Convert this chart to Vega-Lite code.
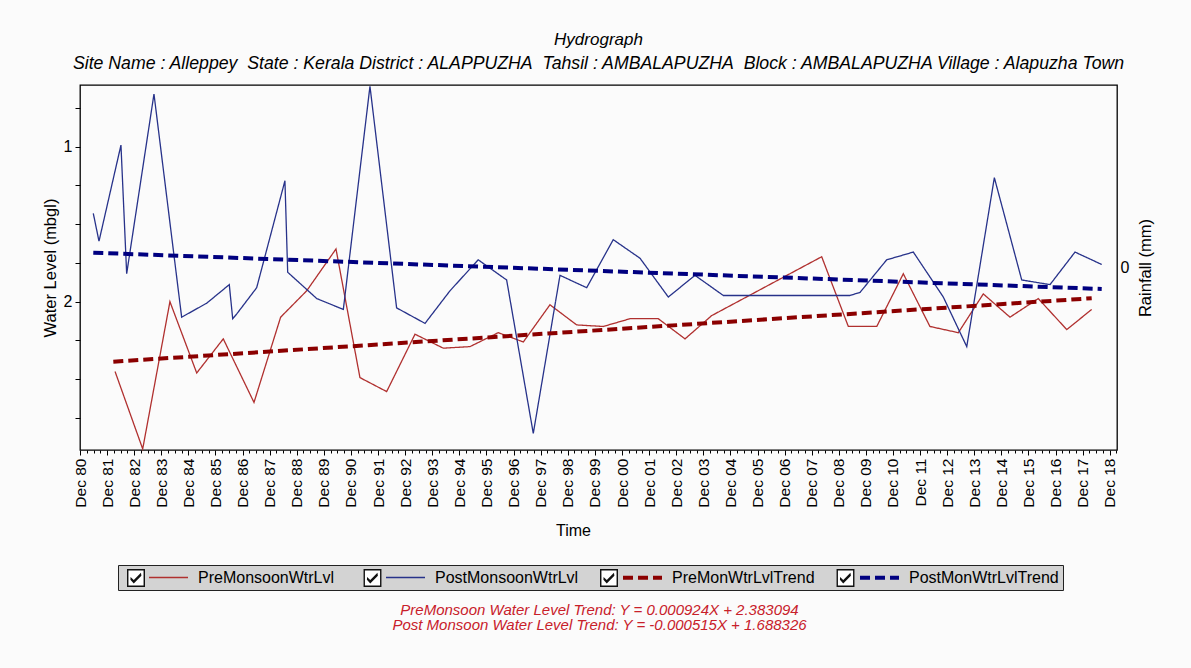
{
  "$schema": "https://vega.github.io/schema/vega-lite/v6.json",
  "width": 1037,
  "height": 365,
  "autosize": {"type": "none"},
  "padding": {"left": 80, "top": 85, "right": 74, "bottom": 218},
  "background": "#fbfbfb",
  "config": {
    "view": {"stroke": "#000", "strokeWidth": 1.3, "fill": "#fbfbfb"},
    "font": "Liberation Sans",
    "axis": {"labelFont": "Liberation Sans", "titleFont": "Liberation Sans", "labelColor": "#000", "titleColor": "#000", "tickColor": "#000", "domain": false, "grid": false, "titleFontWeight": "normal"},
    "legend": {"labelFont": "Liberation Sans", "titleFont": "Liberation Sans"}
  },
  "title": {
    "text": "Hydrograph",
    "subtitle": "Site Name : Alleppey\u00a0 State : Kerala District : ALAPPUZHA\u00a0 Tahsil : AMBALAPUZHA\u00a0 Block : AMBALAPUZHA Village : Alapuzha Town",
    "frame": "group",
    "anchor": "middle",
    "font": "Liberation Sans",
    "fontSize": 17,
    "fontStyle": "italic",
    "fontWeight": "normal",
    "color": "#000",
    "subtitleFont": "Liberation Sans",
    "subtitleFontSize": 17.7,
    "subtitleFontStyle": "italic",
    "subtitleColor": "#000",
    "subtitlePadding": 6,
    "offset": 10
  },
  "datasets": {
    "wl": [
      {"s": "PreMonsoonWtrLvl", "d": "1982-03-18", "v": 2.45},
      {"s": "PreMonsoonWtrLvl", "d": "1983-03-26", "v": 2.95},
      {"s": "PreMonsoonWtrLvl", "d": "1984-03-27", "v": 2.00},
      {"s": "PreMonsoonWtrLvl", "d": "1985-03-23", "v": 2.46},
      {"s": "PreMonsoonWtrLvl", "d": "1986-03-16", "v": 2.24},
      {"s": "PreMonsoonWtrLvl", "d": "1987-05-04", "v": 2.65},
      {"s": "PreMonsoonWtrLvl", "d": "1988-04-27", "v": 2.10},
      {"s": "PreMonsoonWtrLvl", "d": "1989-04-13", "v": 1.93},
      {"s": "PreMonsoonWtrLvl", "d": "1990-05-13", "v": 1.66},
      {"s": "PreMonsoonWtrLvl", "d": "1991-04-01", "v": 2.49},
      {"s": "PreMonsoonWtrLvl", "d": "1992-03-26", "v": 2.58},
      {"s": "PreMonsoonWtrLvl", "d": "1993-04-12", "v": 2.21},
      {"s": "PreMonsoonWtrLvl", "d": "1994-04-28", "v": 2.30},
      {"s": "PreMonsoonWtrLvl", "d": "1995-04-23", "v": 2.29},
      {"s": "PreMonsoonWtrLvl", "d": "1996-05-08", "v": 2.20},
      {"s": "PreMonsoonWtrLvl", "d": "1997-04-11", "v": 2.26},
      {"s": "PreMonsoonWtrLvl", "d": "1998-04-05", "v": 2.02},
      {"s": "PreMonsoonWtrLvl", "d": "1999-03-31", "v": 2.15},
      {"s": "PreMonsoonWtrLvl", "d": "2000-03-23", "v": 2.16},
      {"s": "PreMonsoonWtrLvl", "d": "2001-03-19", "v": 2.11},
      {"s": "PreMonsoonWtrLvl", "d": "2002-04-04", "v": 2.11},
      {"s": "PreMonsoonWtrLvl", "d": "2003-03-30", "v": 2.24},
      {"s": "PreMonsoonWtrLvl", "d": "2004-03-23", "v": 2.09},
      {"s": "PreMonsoonWtrLvl", "d": "2008-04-14", "v": 1.71},
      {"s": "PreMonsoonWtrLvl", "d": "2009-04-08", "v": 2.16},
      {"s": "PreMonsoonWtrLvl", "d": "2010-04-26", "v": 2.16},
      {"s": "PreMonsoonWtrLvl", "d": "2011-04-19", "v": 1.82},
      {"s": "PreMonsoonWtrLvl", "d": "2012-04-12", "v": 2.16},
      {"s": "PreMonsoonWtrLvl", "d": "2013-04-30", "v": 2.20},
      {"s": "PreMonsoonWtrLvl", "d": "2014-04-01", "v": 1.95},
      {"s": "PreMonsoonWtrLvl", "d": "2015-03-27", "v": 2.10},
      {"s": "PreMonsoonWtrLvl", "d": "2016-04-11", "v": 1.98},
      {"s": "PreMonsoonWtrLvl", "d": "2017-04-30", "v": 2.18},
      {"s": "PreMonsoonWtrLvl", "d": "2018-04-01", "v": 2.05},
      {"s": "PostMonsoonWtrLvl", "d": "1981-05-29", "v": 1.43},
      {"s": "PostMonsoonWtrLvl", "d": "1981-08-14", "v": 1.61},
      {"s": "PostMonsoonWtrLvl", "d": "1982-06-06", "v": 0.99},
      {"s": "PostMonsoonWtrLvl", "d": "1982-08-22", "v": 1.82},
      {"s": "PostMonsoonWtrLvl", "d": "1983-08-25", "v": 0.66},
      {"s": "PostMonsoonWtrLvl", "d": "1984-09-01", "v": 2.10},
      {"s": "PostMonsoonWtrLvl", "d": "1985-08-04", "v": 2.01},
      {"s": "PostMonsoonWtrLvl", "d": "1986-06-05", "v": 1.89},
      {"s": "PostMonsoonWtrLvl", "d": "1986-07-21", "v": 2.11},
      {"s": "PostMonsoonWtrLvl", "d": "1986-09-12", "v": 2.08},
      {"s": "PostMonsoonWtrLvl", "d": "1987-06-09", "v": 1.91},
      {"s": "PostMonsoonWtrLvl", "d": "1988-06-24", "v": 1.22},
      {"s": "PostMonsoonWtrLvl", "d": "1988-07-31", "v": 1.81},
      {"s": "PostMonsoonWtrLvl", "d": "1989-08-27", "v": 1.98},
      {"s": "PostMonsoonWtrLvl", "d": "1990-08-20", "v": 2.05},
      {"s": "PostMonsoonWtrLvl", "d": "1991-08-14", "v": 0.61},
      {"s": "PostMonsoonWtrLvl", "d": "1992-08-07", "v": 2.04},
      {"s": "PostMonsoonWtrLvl", "d": "1993-08-25", "v": 2.14},
      {"s": "PostMonsoonWtrLvl", "d": "1994-07-27", "v": 1.93},
      {"s": "PostMonsoonWtrLvl", "d": "1995-08-12", "v": 1.73},
      {"s": "PostMonsoonWtrLvl", "d": "1996-08-29", "v": 1.86},
      {"s": "PostMonsoonWtrLvl", "d": "1997-08-23", "v": 2.85},
      {"s": "PostMonsoonWtrLvl", "d": "1998-08-18", "v": 1.83},
      {"s": "PostMonsoonWtrLvl", "d": "1999-08-13", "v": 1.91},
      {"s": "PostMonsoonWtrLvl", "d": "2000-08-05", "v": 1.60},
      {"s": "PostMonsoonWtrLvl", "d": "2001-08-01", "v": 1.72},
      {"s": "PostMonsoonWtrLvl", "d": "2002-08-17", "v": 1.97},
      {"s": "PostMonsoonWtrLvl", "d": "2003-08-11", "v": 1.83},
      {"s": "PostMonsoonWtrLvl", "d": "2004-08-27", "v": 1.96},
      {"s": "PostMonsoonWtrLvl", "d": "2005-08-27", "v": 1.96},
      {"s": "PostMonsoonWtrLvl", "d": "2006-08-27", "v": 1.96},
      {"s": "PostMonsoonWtrLvl", "d": "2007-08-27", "v": 1.96},
      {"s": "PostMonsoonWtrLvl", "d": "2008-08-27", "v": 1.96},
      {"s": "PostMonsoonWtrLvl", "d": "2009-04-30", "v": 1.96},
      {"s": "PostMonsoonWtrLvl", "d": "2009-09-13", "v": 1.94},
      {"s": "PostMonsoonWtrLvl", "d": "2010-09-07", "v": 1.73},
      {"s": "PostMonsoonWtrLvl", "d": "2011-09-01", "v": 1.68},
      {"s": "PostMonsoonWtrLvl", "d": "2012-10-09", "v": 1.97},
      {"s": "PostMonsoonWtrLvl", "d": "2013-08-21", "v": 2.29},
      {"s": "PostMonsoonWtrLvl", "d": "2014-08-28", "v": 1.20},
      {"s": "PostMonsoonWtrLvl", "d": "2015-09-01", "v": 1.86},
      {"s": "PostMonsoonWtrLvl", "d": "2016-09-16", "v": 1.89},
      {"s": "PostMonsoonWtrLvl", "d": "2017-08-19", "v": 1.68},
      {"s": "PostMonsoonWtrLvl", "d": "2018-08-14", "v": 1.76},
      {"s": "PreMonWtrLvlTrend", "d": "1982-02-23", "v": 2.387},
      {"s": "PreMonWtrLvlTrend", "d": "2018-04-01", "v": 1.978},
      {"s": "PostMonWtrLvlTrend", "d": "1981-05-29", "v": 1.684},
      {"s": "PostMonWtrLvlTrend", "d": "2018-08-14", "v": 1.918}
    ],
    "aux": [
      {"d": "1975-01-01", "rain": 0, "c": "c1"},
      {"d": "1975-01-01", "rain": 0, "c": "c2"},
      {"d": "1975-01-01", "rain": 0, "c": "c3"},
      {"d": "1975-01-01", "rain": 0, "c": "c4"}
    ]
  },
  "layer": [
    {
      "data": {"name": "wl"},
      "mark": {"type": "line", "strokeCap": "butt", "interpolate": "linear"},
      "encoding": {
        "x": {
          "field": "d", "type": "temporal",
          "scale": {"domain": [{"year": 1980, "month": 12, "date": 1}, {"year": 2019, "month": 3, "date": 8}], "nice": false},
          "axis": {
            "orient": "bottom",
            "values": [{"year":1980,"month":12,"date":1},{"year":1981,"month":12,"date":1},{"year":1982,"month":12,"date":1},{"year":1983,"month":12,"date":1},{"year":1984,"month":12,"date":1},{"year":1985,"month":12,"date":1},{"year":1986,"month":12,"date":1},{"year":1987,"month":12,"date":1},{"year":1988,"month":12,"date":1},{"year":1989,"month":12,"date":1},{"year":1990,"month":12,"date":1},{"year":1991,"month":12,"date":1},{"year":1992,"month":12,"date":1},{"year":1993,"month":12,"date":1},{"year":1994,"month":12,"date":1},{"year":1995,"month":12,"date":1},{"year":1996,"month":12,"date":1},{"year":1997,"month":12,"date":1},{"year":1998,"month":12,"date":1},{"year":1999,"month":12,"date":1},{"year":2000,"month":12,"date":1},{"year":2001,"month":12,"date":1},{"year":2002,"month":12,"date":1},{"year":2003,"month":12,"date":1},{"year":2004,"month":12,"date":1},{"year":2005,"month":12,"date":1},{"year":2006,"month":12,"date":1},{"year":2007,"month":12,"date":1},{"year":2008,"month":12,"date":1},{"year":2009,"month":12,"date":1},{"year":2010,"month":12,"date":1},{"year":2011,"month":12,"date":1},{"year":2012,"month":12,"date":1},{"year":2013,"month":12,"date":1},{"year":2014,"month":12,"date":1},{"year":2015,"month":12,"date":1},{"year":2016,"month":12,"date":1},{"year":2017,"month":12,"date":1},{"year":2018,"month":12,"date":1}],
            "format": "%b %y",
            "labelAngle": 270,
            "labelFontSize": 15.5,
            "labelPadding": 3,
            "labelOverlap": false,
            "labelFlush": false,
            "tickSize": 5,
            "title": "Time",
            "titleFontSize": 16,
            "titlePadding": 15,
            "titleX": 493
          }
        },
        "y": {
          "field": "v", "type": "quantitative",
          "scale": {"domain": [0.602, 2.957], "reverse": true, "nice": false, "zero": false},
          "axis": {
            "orient": "left",
            "values": [0.75, 1, 1.25, 1.5, 1.75, 2, 2.25, 2.5, 2.75],
            "labelExpr": "datum.value == 1 || datum.value == 2 ? datum.value : ''",
            "labelFontSize": 16,
            "labelPadding": 3,
            "tickSize": 5,
            "title": "Water Level (mbgl)",
            "titleFontSize": 16.5,
            "titlePadding": 5
          }
        },
        "color": {
          "field": "s", "type": "nominal",
          "scale": {"domain": ["PreMonsoonWtrLvl", "PostMonsoonWtrLvl", "PreMonWtrLvlTrend", "PostMonWtrLvlTrend"], "range": ["#b0302f", "#27328a", "#8b0000", "#000080"]},
          "legend": {
            "orient": "none", "legendX": 38, "legendY": 480,
            "direction": "horizontal", "columns": 4, "gridAlign": "all",
            "title": " ", "titleOrient": "left", "titlePadding": 26,
            "fillColor": "#d3d3d3", "strokeColor": "#222", "padding": 4,
            "symbolType": "M-3,0H3", "symbolSize": 169, "symbolOffset": 12,
            "labelOffset": 21, "labelFontSize": 16, "labelColor": "#000",
            "columnPadding": 30
          }
        },
        "strokeDash": {
          "field": "s", "type": "nominal",
          "scale": {"domain": ["PreMonsoonWtrLvl", "PostMonsoonWtrLvl", "PreMonWtrLvlTrend", "PostMonWtrLvlTrend"], "range": [[1, 0], [1, 0], [10, 5], [10, 5]]}
        },
        "strokeWidth": {
          "field": "s", "type": "nominal",
          "scale": {"type": "ordinal", "domain": ["PreMonsoonWtrLvl", "PostMonsoonWtrLvl", "PreMonWtrLvlTrend", "PostMonWtrLvlTrend"], "range": [1.3, 1.3, 4, 4]}
        }
      }
    },
    {
      "data": {"name": "aux"},
      "mark": {"type": "point", "clip": true, "filled": true, "fill": "#ffffff", "stroke": "transparent", "strokeWidth": 0},
      "encoding": {
        "x": {
          "field": "d", "type": "temporal",
          "axis": {
            "orient": "bottom",
            "values": [{"year":1981,"month":3,"date":1},{"year":1981,"month":6,"date":1},{"year":1981,"month":9,"date":1},{"year":1982,"month":3,"date":1},{"year":1982,"month":6,"date":1},{"year":1982,"month":9,"date":1},{"year":1983,"month":3,"date":1},{"year":1983,"month":6,"date":1},{"year":1983,"month":9,"date":1},{"year":1984,"month":3,"date":1},{"year":1984,"month":6,"date":1},{"year":1984,"month":9,"date":1},{"year":1985,"month":3,"date":1},{"year":1985,"month":6,"date":1},{"year":1985,"month":9,"date":1},{"year":1986,"month":3,"date":1},{"year":1986,"month":6,"date":1},{"year":1986,"month":9,"date":1},{"year":1987,"month":3,"date":1},{"year":1987,"month":6,"date":1},{"year":1987,"month":9,"date":1},{"year":1988,"month":3,"date":1},{"year":1988,"month":6,"date":1},{"year":1988,"month":9,"date":1},{"year":1989,"month":3,"date":1},{"year":1989,"month":6,"date":1},{"year":1989,"month":9,"date":1},{"year":1990,"month":3,"date":1},{"year":1990,"month":6,"date":1},{"year":1990,"month":9,"date":1},{"year":1991,"month":3,"date":1},{"year":1991,"month":6,"date":1},{"year":1991,"month":9,"date":1},{"year":1992,"month":3,"date":1},{"year":1992,"month":6,"date":1},{"year":1992,"month":9,"date":1},{"year":1993,"month":3,"date":1},{"year":1993,"month":6,"date":1},{"year":1993,"month":9,"date":1},{"year":1994,"month":3,"date":1},{"year":1994,"month":6,"date":1},{"year":1994,"month":9,"date":1},{"year":1995,"month":3,"date":1},{"year":1995,"month":6,"date":1},{"year":1995,"month":9,"date":1},{"year":1996,"month":3,"date":1},{"year":1996,"month":6,"date":1},{"year":1996,"month":9,"date":1},{"year":1997,"month":3,"date":1},{"year":1997,"month":6,"date":1},{"year":1997,"month":9,"date":1},{"year":1998,"month":3,"date":1},{"year":1998,"month":6,"date":1},{"year":1998,"month":9,"date":1},{"year":1999,"month":3,"date":1},{"year":1999,"month":6,"date":1},{"year":1999,"month":9,"date":1},{"year":2000,"month":3,"date":1},{"year":2000,"month":6,"date":1},{"year":2000,"month":9,"date":1},{"year":2001,"month":3,"date":1},{"year":2001,"month":6,"date":1},{"year":2001,"month":9,"date":1},{"year":2002,"month":3,"date":1},{"year":2002,"month":6,"date":1},{"year":2002,"month":9,"date":1},{"year":2003,"month":3,"date":1},{"year":2003,"month":6,"date":1},{"year":2003,"month":9,"date":1},{"year":2004,"month":3,"date":1},{"year":2004,"month":6,"date":1},{"year":2004,"month":9,"date":1},{"year":2005,"month":3,"date":1},{"year":2005,"month":6,"date":1},{"year":2005,"month":9,"date":1},{"year":2006,"month":3,"date":1},{"year":2006,"month":6,"date":1},{"year":2006,"month":9,"date":1},{"year":2007,"month":3,"date":1},{"year":2007,"month":6,"date":1},{"year":2007,"month":9,"date":1},{"year":2008,"month":3,"date":1},{"year":2008,"month":6,"date":1},{"year":2008,"month":9,"date":1},{"year":2009,"month":3,"date":1},{"year":2009,"month":6,"date":1},{"year":2009,"month":9,"date":1},{"year":2010,"month":3,"date":1},{"year":2010,"month":6,"date":1},{"year":2010,"month":9,"date":1},{"year":2011,"month":3,"date":1},{"year":2011,"month":6,"date":1},{"year":2011,"month":9,"date":1},{"year":2012,"month":3,"date":1},{"year":2012,"month":6,"date":1},{"year":2012,"month":9,"date":1},{"year":2013,"month":3,"date":1},{"year":2013,"month":6,"date":1},{"year":2013,"month":9,"date":1},{"year":2014,"month":3,"date":1},{"year":2014,"month":6,"date":1},{"year":2014,"month":9,"date":1},{"year":2015,"month":3,"date":1},{"year":2015,"month":6,"date":1},{"year":2015,"month":9,"date":1},{"year":2016,"month":3,"date":1},{"year":2016,"month":6,"date":1},{"year":2016,"month":9,"date":1},{"year":2017,"month":3,"date":1},{"year":2017,"month":6,"date":1},{"year":2017,"month":9,"date":1},{"year":2018,"month":3,"date":1},{"year":2018,"month":6,"date":1},{"year":2018,"month":9,"date":1},{"year":2019,"month":3,"date":1}],
            "labels": false,
            "tickSize": 3,
            "domain": false,
            "grid": false,
            "title": ["PreMonsoon Water Level Trend: Y = 0.000924X + 2.383094", "Post Monsoon Water Level Trend: Y = -0.000515X + 1.688326"],
            "titleColor": "#c8202a",
            "titleFontStyle": "italic",
            "titleFontWeight": "normal",
            "titleFontSize": 15,
            "titleLineHeight": 15,
            "titleAlign": "center",
            "titleBaseline": "top",
            "titleAngle": 0,
            "titleX": 519,
            "titleY": 152
          }
        },
        "y": {
          "field": "rain", "type": "quantitative",
          "scale": {"domain": [-1, 1], "nice": false, "zero": false},
          "axis": {
            "orient": "right",
            "values": [0],
            "tickSize": 0,
            "labelPadding": 3,
            "labelFontSize": 16,
            "title": "Rainfall (mm)",
            "titleAngle": 270,
            "titleFontSize": 16.5,
            "titlePadding": 25
          }
        },
        "shape": {
          "field": "c", "type": "nominal",
          "scale": {"domain": ["c1", "c2", "c3", "c4"], "range": ["M-1,-1H1V1H-1Z", "M-1,-1H1V1H-1Z", "M-1,-1H1V1H-1Z", "M-1,-1H1V1H-1Z"]},
          "legend": {
            "orient": "none", "legendX": 17, "legendY": 480,
            "direction": "horizontal", "columns": 4, "gridAlign": "all",
            "title": " ", "titleOrient": "left", "titlePadding": 26,
            "padding": 4,
            "symbolSize": 324, "symbolOpacity": 1,
            "symbolStrokeWidth": 0,
            "labelExpr": "''",
            "labelFontSize": 16, "labelOffset": 0,
            "columnPadding": 218.5
          }
        }
      }
    },
    {
      "data": {"name": "aux"},
      "mark": {"type": "point", "clip": true, "filled": true, "fill": "#111111", "stroke": "transparent", "strokeWidth": 0},
      "encoding": {
        "x": {"field": "d", "type": "temporal", "axis": null},
        "y": {"field": "rain", "type": "quantitative", "axis": null},
        "shape": {
          "field": "c", "type": "nominal",
          "scale": {"domain": ["c1", "c2", "c3", "c4"], "range": ["M-1,-1H1V1H-1Z M-0.84,-0.84V0.84H0.84V-0.84Z M-0.6,-0.12L-0.25,0.22L0.55,-0.58L0.6,-0.25L-0.25,0.6L-0.62,0.2Z", "M-1,-1H1V1H-1Z M-0.84,-0.84V0.84H0.84V-0.84Z M-0.6,-0.12L-0.25,0.22L0.55,-0.58L0.6,-0.25L-0.25,0.6L-0.62,0.2Z", "M-1,-1H1V1H-1Z M-0.84,-0.84V0.84H0.84V-0.84Z M-0.6,-0.12L-0.25,0.22L0.55,-0.58L0.6,-0.25L-0.25,0.6L-0.62,0.2Z", "M-1,-1H1V1H-1Z M-0.84,-0.84V0.84H0.84V-0.84Z M-0.6,-0.12L-0.25,0.22L0.55,-0.58L0.6,-0.25L-0.25,0.6L-0.62,0.2Z"]},
          "legend": {
            "orient": "none", "legendX": 17, "legendY": 480,
            "direction": "horizontal", "columns": 4, "gridAlign": "all",
            "title": " ", "titleOrient": "left", "titlePadding": 26,
            "padding": 4,
            "symbolSize": 324, "symbolOpacity": 1,
            "symbolStrokeWidth": 0,
            "labelExpr": "''",
            "labelFontSize": 16, "labelOffset": 0,
            "columnPadding": 218.5
          }
        }
      }
    }
  ],
  "resolve": {
    "scale": {"y": "independent", "shape": "independent"},
    "axis": {"x": "independent", "y": "independent"},
    "legend": {"shape": "independent"}
  }
}
